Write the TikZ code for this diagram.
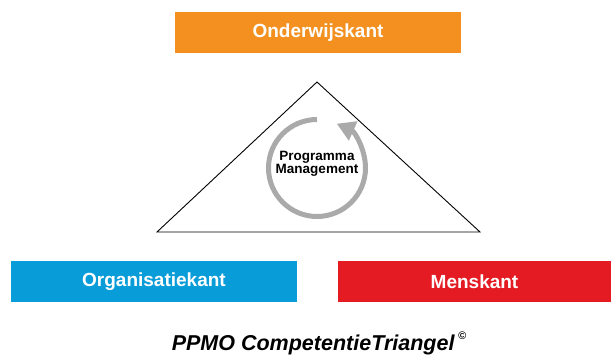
\documentclass[tikz,border=0pt]{standalone}
\usepackage{fontspec}
\setmainfont{Liberation Sans}
\usepackage{tikz}
\usetikzlibrary{arrows.meta}
\definecolor{ppmoorange}{HTML}{F39020}
\definecolor{ppmoblue}{HTML}{089CD8}
\definecolor{ppmored}{HTML}{E41B23}
\definecolor{ppmogrey}{HTML}{AAAAAA}
\tikzstyle{kant} = [rectangle, minimum height=41pt, inner sep=0pt, text centered, text=white, font=\fontsize{19}{22}\selectfont\bfseries]
\tikzstyle{pmtext} = [align=center, inner sep=0pt, font=\fontsize{13.5}{13}\selectfont\bfseries]
\tikzstyle{cyclearrow} = [line width=5pt, ppmogrey, -{Triangle[length=18pt,width=20pt]}]

\begin{document}
\begin{tikzpicture}[x=1pt, y=1pt]
               \useasboundingbox (0,0) rectangle (611,356);
               \node [kant, fill=ppmoorange, minimum width=286pt] at (318,323) (onderwijs) {\raisebox{-1pt}{Onderwijskant}};
               \node [kant, fill=ppmoblue, minimum width=286pt] at (154,74.5) (organisatie) {\raisebox{-1pt}{Organisatiekant}};
               \node [kant, fill=ppmored, minimum width=273pt] at (474.5,74.5) (mens) {\raisebox{-1pt}{Menskant}};
               \coordinate (top) at (317,274);
               \coordinate (left) at (157,124);
               \coordinate (right) at (480,124);
               \draw [line width=0.9pt] (top) -- (left) -- (right) -- cycle;
               \node [pmtext] at (317,192.5) (pm) {Programma\\Management};
               \draw [cyclearrow] (pm.center) ++(0,-4.5) ++(90:48.5) arc (90:426:48.5);
               \node [anchor=base, font=\fontsize{21.5}{24}\selectfont\bfseries\itshape] at (319,5.5) (titel) {PPMO CompetentieTriangel\,\raisebox{0.5em}{\fontsize{11}{11}\selectfont\bfseries\itshape ©}};
\end{tikzpicture}
\end{document}
